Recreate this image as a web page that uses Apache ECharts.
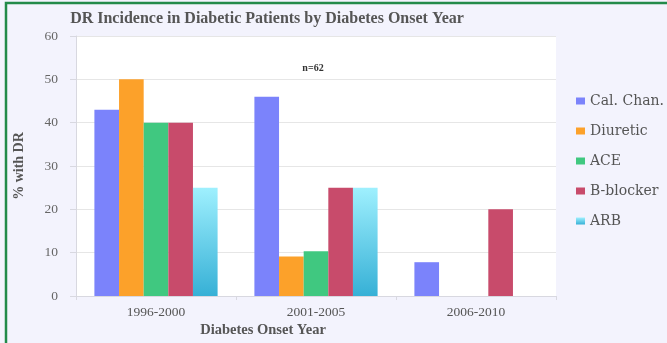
<!DOCTYPE html>
<html>
<head>
<meta charset="utf-8">
<script src="https://cdn.jsdelivr.net/npm/echarts@6/dist/echarts.min.js"></script>
<style>
	html, body { margin: 0; padding: 0; background: #f3f3fd; }
	#chart { width: 667px; height: 343px; }
</style>
</head>
<body>
<div id="chart"></div>
<script>
	const categories = ['1996-2000', '2001-2005', '2006-2010'];
	const calChan = [43, 46, 7.8];
	const diuretic = [50, 9.1, 0];
	const ace = [40, 10.3, 0];
	const bBlocker = [40, 25, 20];
	const arb = [25, 25, 0];
	const yTicks = [0, 10, 20, 30, 40, 50, 60];

	var chart = echarts.init(document.getElementById('chart'));

	const serif = '"Liberation Serif", "DejaVu Serif", serif';
	const wideSerif = '"DejaVu Serif", serif';
	const arbColor = new echarts.graphic.LinearGradient(0, 0, 0, 1, [
		{ offset: 0, color: '#9ff0fe' },
		{ offset: 1, color: '#36b0d6' }
	]);

	function bar(name, data, color) {
		return {
			name: name,
			type: 'bar',
			data: data.map(function(v) { return v === 0 ? '-' : v; }),
			barGap: '0%',
			barCategoryGap: '23%',
			itemStyle: { color: color },
			emphasis: { disabled: true }
		};
	}

	option = {
		backgroundColor: '#f3f3fd',
		animation: false,
		textStyle: { fontFamily: serif },
		title: [{
			text: 'DR Incidence in Diabetic Patients by Diabetes Onset Year',
			left: 262,
			textAlign: 'center',
			top: 6,
			textStyle: { color: '#555', fontSize: 16, fontWeight: 'bold', fontFamily: serif }
		}, {
			text: 'n=62',
			left: 308,
			textAlign: 'center',
			top: 58,
			textStyle: { color: '#333', fontSize: 10, fontWeight: 'bold', fontFamily: serif }
		}, {
			text: 'Diabetes Onset Year',
			left: 258,
			textAlign: 'center',
			top: 318,
			textStyle: { color: '#555', fontSize: 14.5, fontWeight: 'bold', fontFamily: serif }
		}],
		color: ['#7b83fb', '#fca12a', '#40c880', '#c84b6b', arbColor],
		graphic: [{
			type: 'polyline',
			shape: { points: [[6, 360], [6, 3], [700, 3]] },
			style: { fill: 'none', stroke: '#238a4a', lineWidth: 2.5 },
			silent: true
		}],
		legend: {
			data: ['Cal. Chan.', 'Diuretic', 'ACE', 'B-blocker', 'ARB'],
			orient: 'vertical',
			left: 571,
			top: 89,
			itemWidth: 9,
			itemHeight: 7,
			itemGap: 16,
			icon: 'rect',
			textStyle: { color: '#555', fontSize: 14, fontFamily: wideSerif }
		},
		grid: {
			left: 76,
			right: 111,
			top: 36,
			bottom: 47,
			show: true,
			backgroundColor: '#fff',
			borderWidth: 0
		},
		xAxis: {
			type: 'category',
			data: categories,
			axisLine: { lineStyle: { color: '#d8d8e0' } },
			axisTick: { show: true, length: 4, lineStyle: { color: '#d8d8e0' } },
			axisLabel: { color: '#555', fontSize: 13.5, margin: 9, fontFamily: serif }
		},
		yAxis: {
			type: 'value',
			min: yTicks[0],
			max: yTicks[yTicks.length - 1],
			interval: 10,
			name: '% with DR',
			nameLocation: 'middle',
			nameGap: 50,
			nameTextStyle: { color: '#555', fontSize: 14, fontWeight: 'bold', fontFamily: serif },
			axisLine: { show: true, lineStyle: { color: '#d8d8e0' } },
			axisTick: { show: true, length: 6, lineStyle: { color: '#d8d8e0' } },
			axisLabel: { color: '#666', fontSize: 13.5, margin: 18, fontFamily: serif },
			splitLine: { lineStyle: { color: '#e6e6e6' } }
		},
		series: [
			bar('Cal. Chan.', calChan, '#7b83fb'),
			bar('Diuretic', diuretic, '#fca12a'),
			bar('ACE', ace, '#40c880'),
			bar('B-blocker', bBlocker, '#c84b6b'),
			bar('ARB', arb, arbColor)
		]
	};

	chart.setOption(option);

	window.onresize = function() {
		chart.resize();
	}
</script>
</body>
</html>
